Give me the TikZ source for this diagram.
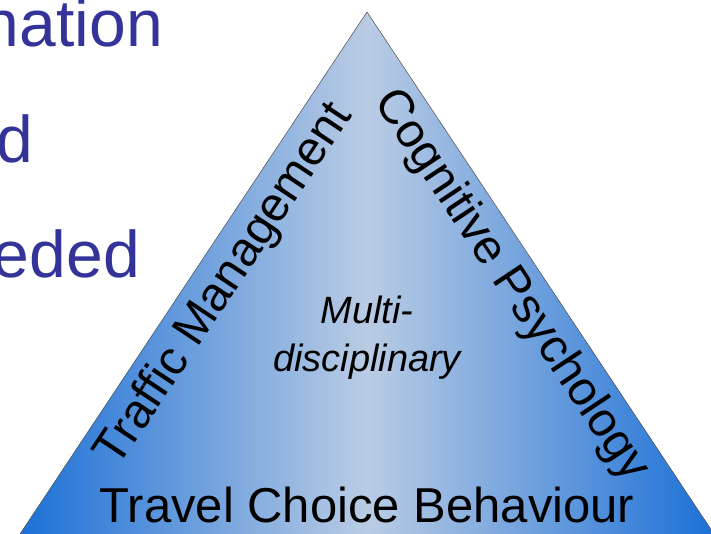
\documentclass[tikz,border=0pt]{standalone}
\usepackage{fontspec}
\setmainfont{Liberation Sans}

\definecolor{edgeblue}{RGB}{26,111,214}
\definecolor{midblue}{RGB}{186,204,228}
\definecolor{slideblue}{RGB}{51,51,153}

\begin{document}
\begin{tikzpicture}[x=1pt,y=-1pt,
    slide/.style={text=slideblue,font=\fontsize{66}{79}\selectfont,anchor=base east,inner sep=0pt},
    side/.style={font=\fontsize{48}{57}\selectfont,inner sep=0pt},
    pyramid/.style={left color=edgeblue,right color=edgeblue,middle color=midblue,draw=gray!60!black,line width=0.5pt}]
  \useasboundingbox (0,0) rectangle (711,534);
  \clip (0,0) rectangle (711,534);

  % slide text running in from the left
  \node[slide] (info) at (163,47) {nation};
  \node[slide] (and) at (33,163) {d};
  \node[slide] (need) at (140,277) {eded};

  % the pyramid
  \coordinate (top) at (367,12);
  \coordinate (left) at (16,540);
  \coordinate (right) at (718,540);
  \path[pyramid] (top) -- (right) -- (left) -- cycle;

  % labels along the sides
  \node[side,rotate=56.4] (traffic) at (225,285) {Traffic Management};
  \node[side,rotate=-56.4] (psych) at (511,286) {Cognitive Psychology};
  \node[font=\fontsize{49}{59}\selectfont,anchor=base,inner sep=0pt] (travel) at (367,522) {Travel Choice Behaviour};
  \node[font=\fontsize{38}{48}\selectfont\itshape,align=center,inner sep=0pt] (multi) at (367,338) {Multi-\\disciplinary};
\end{tikzpicture}
\end{document}
